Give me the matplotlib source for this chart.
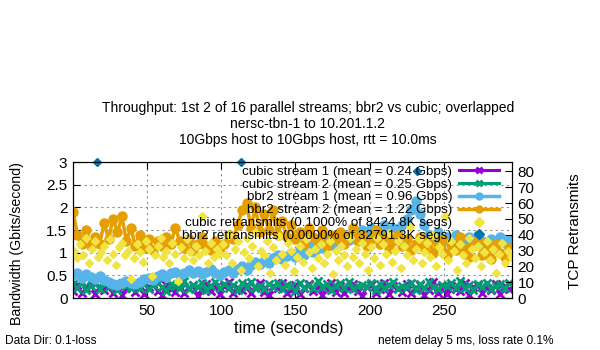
import numpy as np
import matplotlib
matplotlib.use("Agg")
import matplotlib.pyplot as plt

plt.rcParams['font.family'] = ['Liberation Sans', 'DejaVu Sans']

# bandwidth samples every 3 seconds (Gbits/second)
t_bw = np.arange(0, 297, 3)

cubic1 = [0.15,0.28,0.10,0.22,0.35,0.08,0.25,0.18,0.30,0.12,
          0.26,0.06,0.21,0.33,0.14,0.27,0.09,0.24,0.31,0.16,
          0.07,0.29,0.20,0.13,0.34,0.11,0.23,0.28,0.05,0.19,
          0.30,0.15,0.25,0.08,0.27,0.36,0.12,0.22,0.17,0.29,
          0.10,0.24,0.32,0.14,0.06,0.26,0.21,0.33,0.11,0.18,
          0.28,0.09,0.23,0.31,0.15,0.25,0.07,0.20,0.34,0.13,
          0.27,0.10,0.22,0.30,0.16,0.05,0.24,0.29,0.12,0.19,
          0.33,0.08,0.26,0.21,0.14,0.31,0.10,0.23,0.28,0.06,
          0.18,0.35,0.12,0.25,0.09,0.27,0.20,0.15,0.32,0.07,
          0.24,0.29,0.11,0.22,0.17,0.30,0.08,0.26,0.19]

cubic2 = [0.30,0.22,0.35,0.18,0.27,0.33,0.20,0.38,0.24,0.29,
          0.17,0.32,0.26,0.21,0.36,0.23,0.30,0.19,0.28,0.34,
          0.25,0.16,0.31,0.27,0.22,0.37,0.20,0.29,0.24,0.33,
          0.18,0.26,0.35,0.21,0.30,0.23,0.28,0.17,0.32,0.25,
          0.36,0.22,0.27,0.19,0.31,0.24,0.34,0.20,0.29,0.26,
          0.16,0.33,0.23,0.28,0.21,0.37,0.25,0.30,0.18,0.27,
          0.32,0.22,0.35,0.19,0.26,0.29,0.24,0.34,0.17,0.31,
          0.23,0.28,0.36,0.20,0.27,0.25,0.33,0.18,0.30,0.22,
          0.35,0.24,0.19,0.29,0.26,0.32,0.21,0.37,0.23,0.28,
          0.17,0.31,0.25,0.34,0.20,0.27,0.30,0.22,0.33]

bbr1 = [0.50,0.55,0.45,0.52,0.47,0.42,0.48,0.40,0.35,0.30,
        0.28,0.33,0.38,0.32,0.30,0.36,0.42,0.45,0.40,0.48,
        0.52,0.46,0.55,0.58,0.50,0.56,0.62,0.55,0.60,0.52,
        0.58,0.63,0.55,0.50,0.57,0.62,0.55,0.65,0.70,0.62,
        0.72,0.80,0.74,0.82,0.78,0.88,0.95,0.85,0.92,1.00,
        0.90,1.05,0.95,1.15,1.02,1.25,1.10,1.30,1.18,1.35,
        1.22,1.40,1.28,1.45,1.35,1.50,1.38,1.55,1.42,1.48,
        1.60,1.45,1.55,1.50,1.62,1.75,1.95,2.15,1.85,1.60,
        1.40,1.30,1.45,1.25,1.35,1.20,1.40,1.28,1.15,1.35,
        1.22,1.38,1.25,1.10,1.30,1.18,1.35,1.22,1.28]

bbr2 = [1.90,1.40,1.20,1.50,1.15,1.35,1.20,1.65,1.30,1.75,
        1.45,1.80,1.25,1.55,1.15,1.40,1.10,1.30,1.05,1.25,
        1.15,1.35,1.20,1.55,1.25,1.10,1.30,1.05,1.20,1.35,
        1.15,1.05,1.25,1.10,1.20,1.40,1.30,1.60,1.95,2.10,
        1.55,2.00,1.45,1.85,1.50,1.95,1.40,1.70,1.35,1.60,
        1.30,1.45,1.20,1.55,1.35,1.25,1.50,1.15,1.40,1.30,
        1.45,1.20,1.35,1.55,1.25,1.40,1.15,1.30,1.50,1.20,
        1.35,1.10,1.25,1.40,1.15,1.30,1.05,1.20,1.35,1.10,
        1.25,1.00,1.15,1.30,0.95,1.20,1.05,1.35,1.10,0.90,
        1.15,1.25,0.95,1.10,0.85,1.20,1.00,0.90,1.10]

# retransmits every 2 seconds
t_rtx = np.arange(1, 296, 2)
cubic_rtx = [30,25,34,27,38,22,31,36,26,29,
             33,24,37,28,21,32,35,27,30,12,
             25,34,29,23,36,31,14,27,33,38,
             26,30,22,35,28,11,32,25,37,29,
             24,33,27,52,30,22,35,26,31,28,
             34,27,40,22,31,36,18,29,38,25,
             33,42,20,30,27,36,16,32,24,39,
             28,21,35,30,17,26,33,23,37,29,
             19,31,25,34,22,28,36,15,30,24,
             33,27,20,38,26,31,22,35,28,18,
             32,25,38,21,34,28,41,23,30,36,
             19,33,27,45,24,31,37,22,29,35,
             26,40,20,32,28,52,24,36,30,18,
             34,27,22,38,31,25,33,20,29,36,
             24,31,16,28,35,22,30,26]

t_bbr_rtx = [16, 113, 232]
bbr_rtx = [86, 86, 80]

labels = ["cubic stream 1 (mean = 0.24 Gbps)",
          "cubic stream 2 (mean = 0.25 Gbps)",
          "bbr2 stream 1 (mean = 0.96 Gbps)",
          "bbr2 stream 2 (mean = 1.22 Gbps)",
          "cubic retransmits (0.1000% of 8424.8K segs)",
          "bbr2 retransmits (0.0000% of 32791.3K segs)"]

fig = plt.figure(figsize=(6, 3.5), dpi=100)
ax = fig.add_axes([73/600, 52/350, 439/600, 136/350])
ax2 = ax.twinx()

h1, = ax.plot(t_bw, cubic1, color="#9400d3", lw=2.2, marker="x", ms=6, mew=2)
h2, = ax.plot(t_bw, cubic2, color="#009e73", lw=2.2, marker="x", ms=6, mew=2)
h3, = ax.plot(t_bw, bbr1, color="#56b4e9", lw=2.5, marker="o", ms=6.5)
h4, = ax.plot(t_bw, bbr2, color="#e69f00", lw=2.5, marker="o", ms=6.5)
h5, = ax2.plot(t_rtx, cubic_rtx, ls="none", color="#f0e442", marker="D", ms=4.5)
h6, = ax2.plot(t_bbr_rtx, bbr_rtx, ls="none", color="#0072b2", marker="D", ms=4.5, clip_on=False)

ax.set_xlim(0, 296)
ax.set_ylim(0, 3)
ax2.set_ylim(0, 86)
ax.set_xticks([50, 100, 150, 200, 250])
ax.set_yticks([0, 0.5, 1, 1.5, 2, 2.5, 3])
ax.set_yticklabels(["0", "0.5", "1", "1.5", "2", "2.5", "3"])
ax2.set_yticks(range(0, 81, 10))
ax.tick_params(direction="in", top=True, right=False, labelsize=11, length=5, pad=4)
ax2.tick_params(direction="in", labelsize=11, length=5, pad=4)
ax.grid(True, color="#909090", ls=(0, (2, 3)), lw=0.8)
ax.set_axisbelow(True)

leg = ax2.legend([h1, h2, h3, h4, h5, h6], labels, loc="upper right",
                 bbox_to_anchor=(0.97, 0.975), frameon=False, markerfirst=False,
                 fontsize=9.6, labelspacing=0.04, handlelength=3.0,
                 handletextpad=0.5, borderaxespad=0, borderpad=0)
for lh in leg.get_lines():
    lh.set_markersize(5)

fig.text(308/600, 1 - 108/350, "Throughput: 1st 2 of 16 parallel streams; bbr2 vs cubic; overlapped",
         ha="center", va="center", fontsize=10)
fig.text(308/600, 1 - 124/350, "nersc-tbn-1 to 10.201.1.2", ha="center", va="center", fontsize=10)
fig.text(308/600, 1 - 140/350, "10Gbps host to 10Gbps host, rtt = 10.0ms", ha="center", va="center", fontsize=10)

fig.text(17/600, 1 - 244/350, "Bandwidth (Gbits/second)", rotation=90, ha="center", va="center", fontsize=10.2)
fig.text(575/600, 1 - 231/350, "TCP Retransmits", rotation=90, ha="center", va="center", fontsize=11)
fig.text(289/600, 1 - 328/350, "time (seconds)", ha="center", va="center", fontsize=12)
fig.text(5/600, 1 - 341/350, "Data Dir: 0.1-loss", ha="left", va="center", fontsize=8.6)
fig.text(378/600, 1 - 341/350, "netem delay 5 ms, loss rate 0.1%", ha="left", va="center", fontsize=8.6)

fig.savefig("out.png", dpi=100)
